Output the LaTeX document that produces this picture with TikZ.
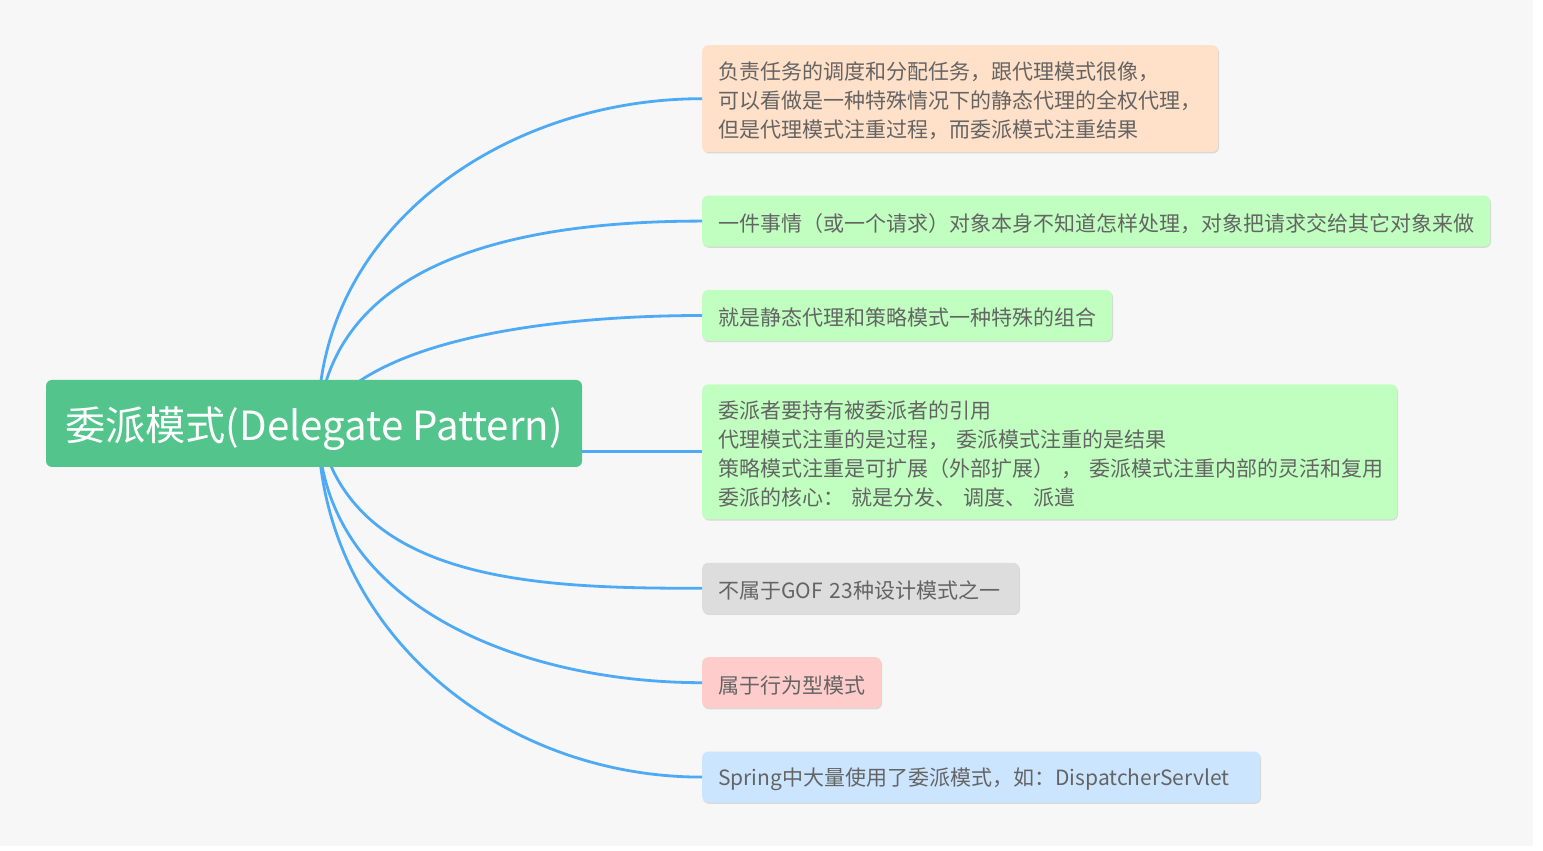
\documentclass[tikz,border=0pt]{standalone}
\usepackage{fontspec}
\setmainfont{Noto Sans CJK SC}
\usetikzlibrary{positioning,shadows}

\definecolor{canvas}{HTML}{F7F7F7}
\definecolor{rootgreen}{RGB}{82,196,140}
\definecolor{branchblue}{RGB}{78,170,245}
\definecolor{peach}{HTML}{FFE0C8}
\definecolor{mint}{HTML}{C0FFC0}
\definecolor{leafgray}{HTML}{DDDDDD}
\definecolor{blush}{HTML}{FFCCCC}
\definecolor{sky}{HTML}{CCE5FF}
\definecolor{leaftext}{RGB}{100,100,100}

\begin{document}
\begin{tikzpicture}[
            x=1pt, y=1pt,
            node distance=43pt,
            root node/.style={rounded corners=6pt, fill=rootgreen, text=white, font=\fontsize{40.2}{44}\selectfont, text height=38.5pt, text depth=4pt, minimum width=536pt, minimum height=87pt, inner sep=0pt},
            leaf node/.style n args={3}{rounded corners=6pt, fill=#1, text width=#2, minimum height=#3, text=leaftext, font=\fontsize{21}{29}\selectfont, text height=22.5pt, align=left, anchor=north west, inner xsep=16pt, inner ysep=0pt, drop shadow={shadow xshift=0.8pt, shadow yshift=-1.2pt, opacity=0.12, fill=black}},
            every edge/.style={draw, branchblue, line width=2.8pt},
        ]
            \useasboundingbox (0,0) rectangle (1543,851);
            \fill[canvas] (0,5) rectangle (1533,851);

            \coordinate (hub) at (318,428);

            \node[leaf node={peach}{484pt}{107pt}] (duty) at (702,806) {负责任务的调度和分配任务，跟代理模式很像，\\可以看做是一种特殊情况下的静态代理的全权代理，\\但是代理模式注重过程，而委派模式注重结果};
            \node[leaf node={mint}{756pt}{51pt}, below=of duty.south west, anchor=north west] (essence) {一件事情（或一个请求）对象本身不知道怎样处理，对象把请求交给其它对象来做};
            \node[leaf node={mint}{378pt}{51pt}, below=of essence.south west, anchor=north west] (combo) {就是静态代理和策略模式一种特殊的组合};
            \node[leaf node={mint}{663pt}{135pt}, below=of combo.south west, anchor=north west] (facts) {委派者要持有被委派者的引用\\代理模式注重的是过程，~委派模式注重的是结果\\策略模式注重是可扩展（外部扩展）~，~委派模式注重内部的灵活和复用\\委派的核心：~就是分发、~调度、~派遣};
            \node[leaf node={leafgray}{285pt}{51pt}, below=of facts.south west, anchor=north west] (gof) {不属于GOF~23种设计模式之一};
            \node[leaf node={blush}{147pt}{51pt}, below=of gof.south west, anchor=north west] (behave) {属于行为型模式};
            \node[leaf node={sky}{526pt}{51pt}, below=of behave.south west, anchor=north west] (spring) {Spring中大量使用了委派模式，如：DispatcherServlet};

            \path (hub) edge[out=90, in=180] (duty.west);
            \path (hub) edge[out=85, in=180] (essence.west);
            \path (hub) edge[out=60, in=180, looseness=0.7] (combo.west);
            \path (hub) edge[out=-80, in=180] (gof.west);
            \path (hub) edge[out=-90, in=180] (behave.west);
            \path (hub) edge[out=-90, in=180] (spring.west);

            \node[root node] (root) at (314,427.5) {委派模式(Delegate Pattern)};
            \path (root.east |- facts.west) edge (facts.west);
        \end{tikzpicture}
\end{document}
